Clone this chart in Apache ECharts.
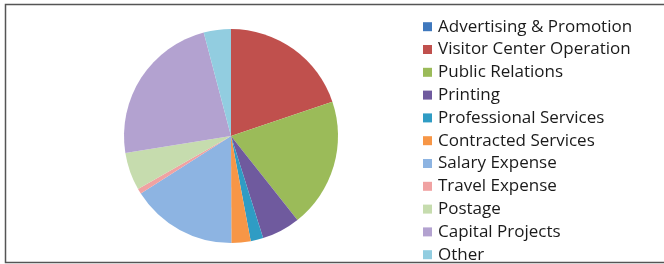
<!DOCTYPE html>
<html>
<head>
<meta charset="utf-8">
<script src="https://cdn.jsdelivr.net/npm/echarts@6/dist/echarts.min.js"></script>
<style>
  html, body { margin: 0; padding: 0; background: #fff; }
  #chart { width: 664px; height: 264px; }
</style>
</head>
<body>
<div id="chart"></div>
<script>
  // categories and share of the budget (percent)
  var categories = [
    'Advertising & Promotion', 'Visitor Center Operation', 'Public Relations',
    'Printing', 'Professional Services', 'Contracted Services', 'Salary Expense',
    'Travel Expense', 'Postage', 'Capital Projects', 'Other'
  ];
  var values = [0, 19.8, 19.5, 5.8, 1.9, 2.9, 16.0, 0.8, 5.7, 23.4, 4.1];
  var colors = [
    '#3f78bd', '#c0504d', '#9bbb59', '#6f5a9e', '#2f9cc4', '#f79646',
    '#8db4e2', '#f0a2a2', '#c6dcae', '#b3a2d0', '#92cde0'
  ];

  var pieData = categories.map(function (name, i) {
    return { name: name, value: values[i], itemStyle: { color: colors[i] } };
  });

  var myChart = echarts.init(document.getElementById('chart'));
  myChart.setOption({
    animation: false,
    backgroundColor: '#fff',
    graphic: [{
      type: 'rect',
      shape: { x: 5.5, y: 4.5, width: 670, height: 258 },
      style: { fill: 'none', stroke: '#555', lineWidth: 1.5 },
      silent: true
    }],
    legend: {
      orient: 'vertical',
      left: 423,
      top: 17.7,
      height: 260,
      padding: 0,
      icon: 'rect',
      itemWidth: 9,
      itemHeight: 9,
      itemGap: 4.8,
      textStyle: {
        fontFamily: 'Open Sans',
        fontSize: 17,
        lineHeight: 18,
        color: '#1a1a1a',
        padding: [0, 0, 0, 1]
      },
      data: categories
    },
    series: [{
      type: 'pie',
      center: [231, 136],
      radius: 107,
      startAngle: 90,
      clockwise: true,
      label: { show: false },
      labelLine: { show: false },
      itemStyle: { borderWidth: 0 },
      data: pieData
    }]
  });
</script>
</body>
</html>
